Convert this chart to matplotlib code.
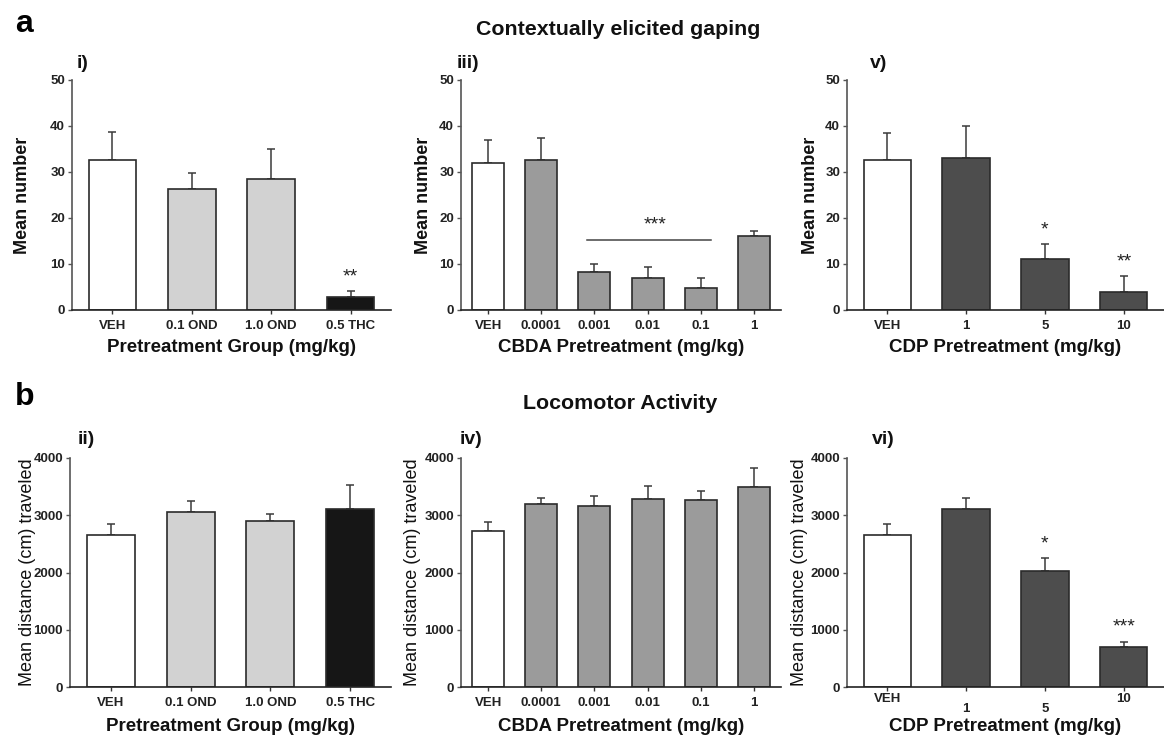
import matplotlib
matplotlib.use('Agg')
import matplotlib.pyplot as plt
import matplotlib.transforms as mtransforms
import numpy as np

plt.rcParams['font.family'] = ['Liberation Sans', 'DejaVu Sans']

## --- data
ond_groups = ['VEH', '0.1 OND', '1.0 OND', '0.5 THC']
cbda_groups = ['VEH', '0.0001', '0.001', '0.01', '0.1', '1']
cdp_groups = ['VEH', '1', '5', '10']

# contextually elicited gaping (mean number, +SEM)
gape_ond = [32.5, 26.2, 28.5, 2.8]
gape_ond_sem = [6.1, 3.6, 6.5, 1.3]
gape_cbda = [32.0, 32.7, 8.3, 7.0, 4.7, 16.1]
gape_cbda_sem = [5.0, 4.7, 1.7, 2.3, 2.2, 1.1]
gape_cdp = [32.5, 33.1, 11.1, 4.0]
gape_cdp_sem = [6.0, 7.0, 3.3, 3.4]

# locomotor activity (mean distance cm, +SEM)
loco_ond = [2660, 3055, 2905, 3100]
loco_ond_sem = [185, 190, 115, 420]
loco_cbda = [2725, 3200, 3165, 3280, 3255, 3490]
loco_cbda_sem = [160, 105, 165, 230, 170, 330]
loco_cdp = [2660, 3100, 2020, 700]
loco_cdp_sem = [185, 200, 235, 95]

# significance marks: (group index, text)
gape_ond_sig = [(3, '**')]
gape_cdp_sig = [(2, '*'), (3, '**')]
loco_cdp_sig = [(2, '*'), (3, '***')]

## --- colours
WHITE = '#ffffff'
LIGHT = '#d2d2d2'
MID = '#9b9b9b'
DARK = '#4d4d4d'
BLACK = '#161616'
EDGE = '#2b2b2b'

ond_colors = [WHITE, LIGHT, LIGHT, BLACK]
cbda_colors = [WHITE] + [MID] * 5
cdp_colors = [WHITE] + [DARK] * 3

W, H = 1164, 736
fig = plt.figure(figsize=(W / 100, H / 100), dpi=100)


def px_axes(x0, x1, ytop, ybot):
    return fig.add_axes([x0 / W, 1 - ybot / H, (x1 - x0) / W, (ybot - ytop) / H])


def bar_panel(ax, groups, vals, sems, colors, ymax, ystep, ylabel, xlabel,
              ylab_bold, ylab_x, xlab_y):
    x = np.arange(len(groups))
    ax.bar(x, vals, width=0.6, color=colors, edgecolor=EDGE, linewidth=1.2,
           zorder=2)
    ax.errorbar(x, vals, yerr=[np.zeros(len(vals)), sems], fmt='none',
                ecolor='#3a3a3a', elinewidth=1.1, capsize=2.6, capthick=1.1,
                zorder=1)
    ax.set_xlim(-0.51, len(groups) - 0.49)
    ax.set_ylim(0, ymax)
    ax.set_yticks(np.arange(0, ymax + 1, ystep))
    ax.set_xticks(x)
    ax.set_xticklabels(groups)
    for s in ['top', 'right']:
        ax.spines[s].set_visible(False)
    ax.spines['left'].set_color('#555555')
    ax.spines['bottom'].set_color('#222222')
    ax.spines['left'].set_linewidth(1.2)
    ax.spines['bottom'].set_linewidth(1.2)
    ax.tick_params(axis='y', length=3, width=1, color='#555555', pad=2,
                   labelsize=9.5, labelcolor='#222222')
    ax.tick_params(axis='x', length=3, width=1, color='#333333', pad=4,
                   labelsize=9.5, labelcolor='#222222')
    for lab in ax.get_xticklabels() + ax.get_yticklabels():
        lab.set_fontweight('bold')
    ax.set_ylabel(ylabel, fontsize=13,
                  fontweight='bold' if ylab_bold else 'normal',
                  color='#111111')
    ax.yaxis.set_label_coords(ylab_x, 0.5)
    ax.set_xlabel(xlabel, fontsize=13.5, fontweight='bold', color='#111111')
    ax.xaxis.set_label_coords(0.5, xlab_y)


def stars(ax, sig, vals, sems, off):
    for i, txt in sig:
        ax.text(i, vals[i] + sems[i] + off, txt, ha='center', va='bottom',
                fontsize=14, color='#222222')


# row a
ax1 = px_axes(72, 391, 80, 310)
bar_panel(ax1, ond_groups, gape_ond, gape_ond_sem, ond_colors, 50, 10,
          'Mean number', 'Pretreatment Group (mg/kg)', True, -0.129, -0.126)
stars(ax1, gape_ond_sig, gape_ond, gape_ond_sem, 1.2)

ax3 = px_axes(461, 781, 80, 310)
bar_panel(ax3, cbda_groups, gape_cbda, gape_cbda_sem, cbda_colors, 50, 10,
          'Mean number', 'CBDA Pretreatment (mg/kg)', True, -0.091, -0.126)
ax3.plot([1.86, 4.19], [15.2, 15.2], color='#444444', lw=1.1)
ax3.text(3.15, 16.6, '***', ha='center', va='bottom', fontsize=14,
         color='#222222')

ax5 = px_axes(847, 1164, 80, 310)
bar_panel(ax5, cdp_groups, gape_cdp, gape_cdp_sem, cdp_colors, 50, 10,
          'Mean number', 'CDP Pretreatment (mg/kg)', True, -0.088, -0.126)
stars(ax5, gape_cdp_sig, gape_cdp, gape_cdp_sem, 1.2)

# row b
ax2 = px_axes(70, 391, 457.7, 687.3)
bar_panel(ax2, ond_groups, loco_ond, loco_ond_sem, ond_colors, 4000, 1000,
          'Mean distance (cm) traveled', 'Pretreatment Group (mg/kg)', False,
          -0.107, -0.132)

ax4 = px_axes(461, 781, 457.7, 687.3)
bar_panel(ax4, cbda_groups, loco_cbda, loco_cbda_sem, cbda_colors, 4000, 1000,
          'Mean distance (cm) traveled', 'CBDA Pretreatment (mg/kg)', False,
          -0.125, -0.132)

ax6 = px_axes(847, 1164, 457.7, 687.3)
bar_panel(ax6, cdp_groups, loco_cdp, loco_cdp_sem, cdp_colors, 4000, 1000,
          'Mean distance (cm) traveled', 'CDP Pretreatment (mg/kg)', False,
          -0.123, -0.132)
stars(ax6, loco_cdp_sig, loco_cdp, loco_cdp_sem, 100)
# the CDP locomotor tick labels are staggered in the original
for lab, dy in zip(ax6.get_xticklabels(), [2.7, -4.1, -4.1, 2.7]):
    lab.set_transform(lab.get_transform() +
                      mtransforms.ScaledTranslation(0, dy / 72, fig.dpi_scale_trans))

## --- figure text
fig.text(15 / W, 1 - 32 / H, 'a', fontsize=23, fontweight='bold', va='baseline')
fig.text(15 / W, 1 - 405 / H, 'b', fontsize=23, fontweight='bold', va='baseline')
fig.text(618 / W, 1 - 35 / H, 'Contextually elicited gaping', fontsize=15.4,
         fontweight='bold', ha='center', va='baseline', color='#111111')
fig.text(620 / W, 1 - 409 / H, 'Locomotor Activity', fontsize=15.4,
         fontweight='bold', ha='center', va='baseline', color='#111111')
for lbl, xx, yy in [('i)', 77, 68), ('iii)', 457, 68), ('v)', 870, 68),
                    ('ii)', 78, 444), ('iv)', 460, 444), ('vi)', 872, 444)]:
    fig.text(xx / W, 1 - yy / H, lbl, fontsize=14, fontweight='bold',
             va='baseline', color='#111111')

fig.savefig('out.png', dpi=100)
